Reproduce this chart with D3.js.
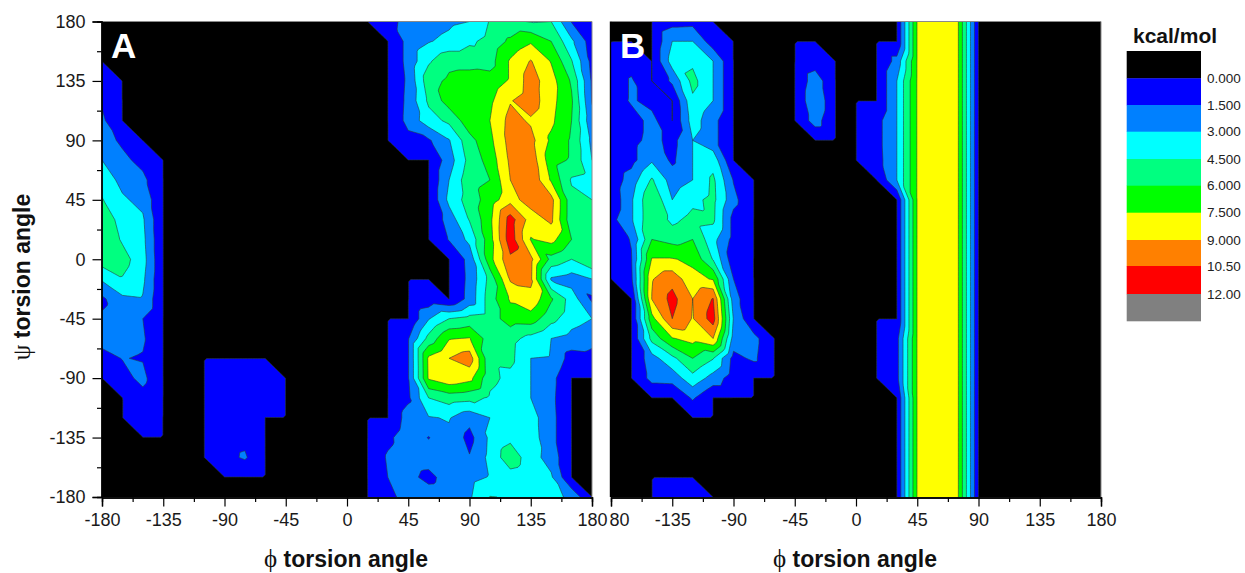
<!DOCTYPE html>
<html><head><meta charset="utf-8">
<script src="https://cdn.jsdelivr.net/npm/d3@7"></script>
<style>html,body{margin:0;padding:0;background:#fff}svg{display:block}text{font-family:"Liberation Sans",Arial,sans-serif}</style>
</head><body><svg id="c" width="1245" height="573"></svg>
<script>
// grid nodes: phi -180..180 and psi 180..-180, every 15 degrees
const gridStep = 15;
const majorTicks = [-180,-135,-90,-45,0,45,90,135,180];
const minorTicks = [-157.5,-112.5,-67.5,-22.5,22.5,67.5,112.5,157.5];
const levels = [0.01,1.5,3,4.5,6,7.5,9,10.5,12];
const levelColors = ["#0000ff","#0080ff","#00ffff","#00ff80","#00ff00","#ffff00","#ff8000","#ff0000","#808080"];
const legendColors = ["#000000","#0000ff","#0080ff","#00ffff","#00ff80","#00ff00","#ffff00","#ff8000","#ff0000","#808080"];
const legendLabels = ["0.000","1.500","3.000","4.500","6.000","7.500","9.000","10.50","12.00"];

const panelA = [
[0,0,0,0, 0,0,0,0,0,0,0,0,0,0, 1.1,1.9,2.3,2.7,3.0,4.6,4.8,4.4,4.5,1.4,0.8],
[0,0,0,0, 0,0,0,0,0,0,0,0,0,0, 0,2.0,2.9,3.4,4.2,5.0,6.3,7.3,6.0,3.3,0.7],
[0,0,0,0, 0,0,0,0,0,0,0,0,0,0, 0,2.0,4.3,5.6,5.6,5.4,7.7,9.1,7.4,4.6,1.0],
[0.6,0,0,0, 0,0,0,0,0,0,0,0,0,0, 0,1.8,5.4,6.3,6.5,6.6,7.7,9.7,8.1,5.8,1.3],
[1.3,0,0,0, 0,0,0,0,0,0,0,0,0,0, 0,1.9,4.8,6.7,6.9,7.2,8.9,9.8,8.0,6.2,1.4],
[1.8,0,0,0, 0,0,0,0,0,0,0,0,0,0, 0,2.0,3.85,4.85,6.9,7.5,9.5,8.8,7.8,6.0,1.9],
[2.2,1.2,0,0, 0,0,0,0,0,0,0,0,0,0, 0,1.0,1.3,2.9,5.5,7.1,9.6,9.5,7.2,5.8,2.6],
[3.0,1.9,1.0,0, 0,0,0,0,0,0,0,0,0,0, 0,0,0,2.3,5.0,6.6,9.3,10.0,6.6,5.8,3.0],
[3.8,2.6,1.9,0, 0,0,0,0,0,0,0,0,0,0, 0,0,0,3.0,5.5,6.0,9.0,10.3,7.3,4.3,3.9],
[4.6,3.2,2.6,0, 0,0,0,0,0,0,0,0,0,0, 0,0,0,3.4,5.2,6.7,8.5,9.6,9.5,5.0,4.5],
[5.5,3.9,3.2,0, 0,0,0,0,0,0,0,0,0,0, 0,0,0,2.2,4.6,7.1,11.2,8.3,9.3,5.0,5.0],
[5.8,4.3,3.4,0, 0,0,0,0,0,0,0,0,0,0, 0,0,0,1.6,3.4,6.9,11.4,7.4,8.0,6.0,5.0],
[5.3,5.1,3.6,0, 0,0,0,0,0,0,0,0,0,0, 0,0,0,0,2.0,7.0,10.2,9.4,5.5,4.5,5.9],
[3.2,4.4,3.3,0, 0,0,0,0,0,0,0,0,0,0, 0,0,0,0,1.9,5.0,9.2,9.3,2.8,2.3,3.0],
[1.2,2.7,2.9,0, 0,0,0,0,0,0,0,0,0,0, 0,0,0.5,0,2.0,5.3,7.7,8.6,6.2,3.8,1.2],
[1.7,2.2,1.5,0, 0,0,0,0,0,0,0,0,0,0, 0,0,2.9,4.5,5.0,5.3,6.7,6.8,5.0,3.6,3.0],
[2.0,1.9,1.7,0, 0,0,0,0,0,0,0,0,0,0, 0,1.4,5.0,7.4,7.6,5.2,5.0,4.0,3.0,2.5,2.0],
[1.0,1.55,1.4,0, 0,0,0,0,0,0,0,0,0,0, 0,1.4,7.8,9.0,9.8,4.8,4.9,3.0,2.9,0.8,1.0],
[0,1.0,1.9,0, 0,0,0.9,0.9,0.8,0,0,0,0,0, 0,1.4,7.7,8.6,8.0,4.9,4.1,3.0,2.0,0,0],
[0,0,1.0,0, 0,0,0.9,0.9,0.8,0,0,0,0,0, 0,1.2,4.5,5.2,5.0,4.3,3.7,3.0,1.9,0,0],
[0,0,0.5,0, 0,0,0.9,0.9,0,0,0,0,0,0, 0,2.2,2.9,3.1,2.0,3.0,3.6,3.6,2.0,0,0],
[0,0,0,0, 0,0,0.9,1.1,0,0,0,0,0,0, 1.1,2.5,1.42,2.7,1.0,3.3,4.1,3.7,2.0,0,0],
[0,0,0,0, 0,0,1.0,1.7,0,0,0,0,0,0, 1.7,2.4,2.3,2.4,1.6,3.4,5.5,3.6,2.4,0,0],
[0,0,0,0, 0,0,0,0,0,0,0,0,0,0, 1.5,2.0,1.0,2.3,2.5,3.1,3.8,3.4,3.2,0,0],
[0,0,0,0, 0,0,0,0,0,0,0,0,0,0, 0.9,2.3,2.4,2.5,2.8,4.55,4.4,3.8,3.6,2.6,0]
];

const panelB = [
[0,0,0,0.9,1.0,0,0,0,0, 0,0,0,0,0,0, 7.6,8,7.6,0,0,0,0,0,0,0],
[0,0,0,3.0,3.0,0.6,0,0,0, 0,0,0,0,0,0, 7.6,8,7.6,0,0,0,0,0,0,0],
[0.3,0.8,0,3.7,4.2,3.0,0,0,0, 0,0.7,0,0,0,2.0, 7.6,8,7.6,0,0,0,0,0,0,0],
[0.3,1.7,0,1.8,5.0,3.0,0,0,0, 0,2.4,0,0,0,3.0, 7.6,8,7.6,0,0,0,0,0,0,0],
[0.5,1.7,1.0,0,4.2,3.0,0,0,0, 0,2.9,0,0,0,3.0, 7.6,8,7.6,0,0,0,0,0,0,0],
[0.4,0.8,2.0,0,3.7,2.0,0,0,0, 0,2.2,0,0,0.9,3.0, 7.6,8,7.6,0,0,0,0,0,0,0],
[0.4,1.0,2.0,1.0,3.0,2.0,0,0,0, 0,0,0,0,0.9,3.0, 7.6,8,7.6,0,0,0,0,0,0,0],
[0.3,1.0,2.8,1.2,3.0,3.9,0,0,0, 0,0,0,0,0.8,3.0, 7.6,8,7.6,0,0,0,0,0,0,0],
[0.5,2.2,4.7,2.3,3.0,4.8,1.4,0,0, 0,0,0,0,0,3.0, 7.6,8,7.6,0,0,0,0,0,0,0],
[0.3,2.8,5.9,3.0,4.1,4.9,1.95,0,0, 0,0,0,0,0,0, 7.6,8,7.6,0,0,0,0,0,0,0],
[1.0,2.8,5.8,4.1,5.0,4.8,1.0,0,0, 0,0,0,0,0,0, 7.6,8,7.6,0,0,0,0,0,0,0],
[0.6,1.6,6.0,5.5,6.0,3.5,1.0,0,0, 0,0,0,0,0,0, 7.6,8,7.6,0,0,0,0,0,0,0],
[0.5,1.4,7.6,7.6,7.2,4.4,0.5,0,0, 0,0,0,0,0,0, 7.6,8,7.6,0,0,0,0,0,0,0],
[0,1.2,8.9,10.0,7.9,7.4,1.5,0,0, 0,0,0,0,0,0, 7.6,8,7.6,0,0,0,0,0,0,0],
[0,0,9.05,11.0,9.0,10.6,2.2,0,0, 0,0,0,0,0,0, 7.6,8,7.6,0,0,0,0,0,0,0],
[0,0,7.0,10.5,8.9,11.2,2.9,0,0, 0,0,0,0,0,0, 7.6,8,7.6,0,0,0,0,0,0,0],
[0,0,5.0,7.4,8.0,9.0,2.4,2.0,0, 0,0,0,0,0,1.0, 7.6,8,7.6,0,0,0,0,0,0,0],
[0,0,2.4,4.1,6.0,4.6,1.0,1.8,0, 0,0,0,0,0,1.0, 7.6,8,7.6,0,0,0,0,0,0,0],
[0,0,2.0,2.1,4.0,2.4,0.7,0,0, 0,0,0,0,0,1.0, 7.6,8,7.6,0,0,0,0,0,0,0],
[0,0,0,0,1.7,0,0,0,0, 0,0,0,0,0,0, 7.6,8,7.6,0,0,0,0,0,0,0],
[0,0,0,0,0,0,0,0,0, 0,0,0,0,0,0, 7.6,8,7.6,0,0,0,0,0,0,0],
[0,0,0,0,0,0,0,0,0, 0,0,0,0,0,0, 7.6,8,7.6,0,0,0,0,0,0,0],
[0,0,0,0,0,0,0,0,0, 0,0,0,0,0,0, 7.6,8,7.6,0,0,0,0,0,0,0],
[0,0,0,0,0,0,0,0,0, 0,0,0,0,0,0, 7.6,8,7.6,0,0,0,0,0,0,0],
[0,0,0,0.8,0.8,0,0,0,0, 0,0,0,0,0,0, 7.6,8,7.6,0,0,0,0,0,0,0]
];

const svg = d3.select("#c");
const yTop = 21.5, yBot = 497;
const y = d3.scaleLinear().domain([-180,180]).range([yBot,yTop]);
const sub = 8; // each grid cell is split along its \ diagonal and sampled sub times per side for the contour tracer

function refine(rows){
  const n = rows.length, m = rows[0].length, W = (m-1)*sub+1, H = (n-1)*sub+1;
  const out = new Float64Array(W*H);
  for(let f=0;f<H;f++) for(let e=0;e<W;e++){
    const i = Math.min(Math.floor(e/sub),m-2), j = Math.min(Math.floor(f/sub),n-2);
    const s = e/sub-i, t = f/sub-j;
    const A = rows[j][i], B = rows[j][i+1], C = rows[j+1][i], D = rows[j+1][i+1];
    out[f*W+e] = t<=s ? A+s*(B-A)+t*(D-B) : A+t*(C-A)+s*(D-C);
  }
  return {values:out,W,H};
}

function drawPanel(id, rows, x0, x1, showY, letter){
  const x = d3.scaleLinear().domain([-180,180]).range([x0,x1]);
  const g = svg.append("g");
  svg.append("clipPath").attr("id","clip"+id).append("rect")
    .attr("x",x0).attr("y",yTop).attr("width",x1-x0).attr("height",yBot-yTop);
  const plot = g.append("g").attr("clip-path",`url(#clip${id})`);
  plot.append("rect").attr("x",x0).attr("y",yTop).attr("width",x1-x0).attr("height",yBot-yTop).attr("fill","#000");
  const fine = refine(rows);
  const gen = d3.contours().size([fine.W,fine.H]).thresholds(levels);
  const path = d3.geoPath(d3.geoTransform({point(u,v){
    this.stream.point(x(-180+(u-0.5)*gridStep/sub), y(180-(v-0.5)*gridStep/sub));
  }}));
  plot.selectAll("path").data(gen(Array.from(fine.values))).join("path")
    .attr("d",path)
    .attr("fill",(d,i)=>levelColors[i])
    .attr("stroke","#2a3a3a").attr("stroke-width",0.6).attr("stroke-linejoin","round");
  // frame
  g.append("path").attr("d",`M${x0},${yTop}H${x1}V${yBot}`).attr("fill","none").attr("stroke","#8a8a8a").attr("stroke-width",1);
  // axes
  const ax = g.append("g").attr("transform",`translate(0,${yBot+0.5})`);
  ax.append("g").call(d3.axisBottom(x).tickValues(minorTicks).tickSize(4.5).tickFormat(""));
  const axMajor = ax.append("g").call(d3.axisBottom(x).tickValues(majorTicks).tickSize(9).tickPadding(7).tickFormat(d=>String(d)));
  ax.selectAll(".domain").attr("stroke-width",1.4);
  ax.selectAll("line").attr("stroke-width",1.2);
  axMajor.selectAll("text").attr("font-size",18).attr("fill","#1a1a1a").style("font-family",'"Liberation Sans",Arial,sans-serif');
  const ay = g.append("g").attr("transform",`translate(${x0-0.5},0)`);
  if(showY){
    ay.append("g").call(d3.axisLeft(y).tickValues(minorTicks).tickSize(4.5).tickFormat(""));
    const ym = ay.append("g").call(d3.axisLeft(y).tickValues(majorTicks).tickSize(9).tickPadding(7).tickFormat(d=>String(d)));
    ym.selectAll("text").attr("font-size",18).attr("fill","#1a1a1a").style("font-family",'"Liberation Sans",Arial,sans-serif');
    ay.selectAll("line").attr("stroke-width",1.2);
    ay.selectAll(".domain").attr("stroke-width",1.4);
  } else {
    ay.append("path").attr("d",`M0,${yTop}V${yBot}`).attr("stroke","#000").attr("stroke-width",1.4);
  }
  g.append("text").attr("x",x0+9).attr("y",58).attr("fill","#fff").attr("font-weight","bold").attr("font-size",35).text(letter);
  const title = g.append("text").attr("x",(x0+x1)/2-1).attr("y",567).attr("text-anchor","middle").attr("font-weight","bold").attr("font-size",23).attr("fill","#111");
  title.append("tspan").attr("font-weight","normal").style("font-family",'"Liberation Serif","DejaVu Serif",serif').attr("font-size",25).text("ϕ");
  title.append("tspan").text(" torsion angle");
}

// B first, so that the -180 of B sits under the 180 of A
drawPanel("B",panelB,611,1101,false,"B");
svg.append("rect").attr("x",577).attr("y",508).attr("width",32).attr("height",24).attr("fill","#fff");
drawPanel("A",panelA,102,592,true,"A");

const yt = svg.append("text").attr("transform","translate(30,277) rotate(-90)").attr("text-anchor","middle")
  .attr("font-weight","bold").attr("font-size",23).attr("fill","#111");
yt.append("tspan").attr("font-weight","normal").style("font-family",'"Liberation Serif","DejaVu Serif",serif').attr("font-size",25).text("ψ");
yt.append("tspan").text(" torsion angle");

// legend
const legBreaks = [51,78.3,105,131.7,159,185.7,212.7,240,266,294,321];
const leg = svg.append("g");
leg.selectAll("rect").data(legendColors).join("rect")
  .attr("x",1126.7).attr("width",74.3)
  .attr("y",(d,i)=>legBreaks[i]).attr("height",(d,i)=>legBreaks[i+1]-legBreaks[i]+0.3)
  .attr("fill",d=>d);
leg.selectAll("text.l").data(legendLabels).join("text").attr("class","l")
  .attr("x",1207).attr("y",(d,i)=>legBreaks[i+1]+4.7)
  .attr("font-size",13.5).attr("fill","#222").text(d=>d);
svg.append("text").attr("x",1133).attr("y",42.5).attr("font-weight","bold").attr("font-size",21).attr("fill","#111").text("kcal/mol");
</script></body></html>
